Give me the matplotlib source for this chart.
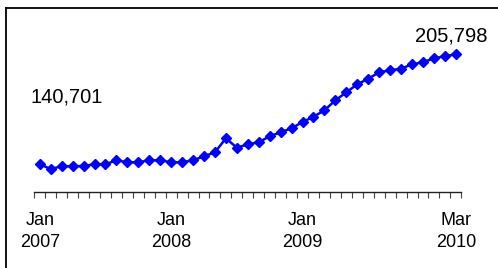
import matplotlib
matplotlib.use("Agg")
import matplotlib.pyplot as plt
from matplotlib.lines import Line2D

plt.rcParams['font.family'] = ['Liberation Sans', 'DejaVu Sans']

# Monthly values Jan 2007 .. Mar 2010
months = ["Jan 2007","Feb 2007","Mar 2007","Apr 2007","May 2007","Jun 2007","Jul 2007","Aug 2007",
          "Sep 2007","Oct 2007","Nov 2007","Dec 2007",
          "Jan 2008","Feb 2008","Mar 2008","Apr 2008","May 2008","Jun 2008","Jul 2008","Aug 2008",
          "Sep 2008","Oct 2008","Nov 2008","Dec 2008",
          "Jan 2009","Feb 2009","Mar 2009","Apr 2009","May 2009","Jun 2009","Jul 2009","Aug 2009",
          "Sep 2009","Oct 2009","Nov 2009","Dec 2009",
          "Jan 2010","Feb 2010","Mar 2010"]
values = [140701, 137920, 139517, 139517, 139695, 140701, 140701, 143068,
          141885, 141885, 143068, 143068,
          141885, 141885, 143068, 145435, 147803, 156088, 150525, 152537,
          153721, 157271, 159639, 162006,
          165734, 168871, 172658, 178576, 183311, 188045, 191359, 195147,
          196330, 197277, 199881,
          201065, 203432, 204615, 205798]
tick_positions = [0, 12, 24, 38]
tick_labels = ["Jan\n2007", "Jan\n2008", "Jan\n2009", "Mar\n2010"]
first_label = "140,701"
last_label = "205,798"

W, H = 498, 268
fig = plt.figure(figsize=(W/100, H/100), dpi=100)
fig.patch.set_facecolor('white')

left_px, right_px, axis_px, top_px = 34.3, 461.3, 192.3, 20
ax = fig.add_axes([left_px/W, 1 - axis_px/H, (right_px-left_px)/W, (axis_px-top_px)/H])

x = list(range(len(values)))
ax.plot(x, values, color='#0000FF', lw=1.8, marker='D', ms=5.4, mec='#0000FF', mfc='#0000FF')

ax.set_xlim(-0.5, len(values) - 0.5)
ax.set_ylim(124130, 226097)

for s in ['top', 'right', 'left']:
    ax.spines[s].set_visible(False)
ax.spines['bottom'].set_color('#222222')
ax.spines['bottom'].set_linewidth(1.0)
ax.set_yticks([])

ax.set_xticks([i - 0.5 for i in range(len(values) + 1)], minor=True)
ax.tick_params(axis='x', which='minor', length=4.2, width=0.8, color='#444444', direction='out')
ax.set_xticks(tick_positions)
ax.set_xticklabels(tick_labels, fontsize=13, linespacing=1.35)
ax.tick_params(axis='x', which='major', length=0, pad=14.5, labelcolor='black')

ax.annotate(first_label, xy=(0, values[0]), xytext=(27*0.72, 67.5*0.72),
            textcoords='offset points', ha='center', va='center', fontsize=14.5, color='black')
ax.annotate(last_label, xy=(len(values)-1, values[-1]), xytext=(-5*0.72, 18*0.72),
            textcoords='offset points', ha='center', va='center', fontsize=14.5, color='black')

# outer frame (cut off at right and bottom)
bx, by = 5.8/W, 1 - 7.5/H
fig.add_artist(Line2D([bx, bx], [-0.1, by], transform=fig.transFigure, color='black', lw=1.3))
fig.add_artist(Line2D([bx, 1.1], [by, by], transform=fig.transFigure, color='black', lw=1.3))

fig.savefig('out.png', dpi=100)
